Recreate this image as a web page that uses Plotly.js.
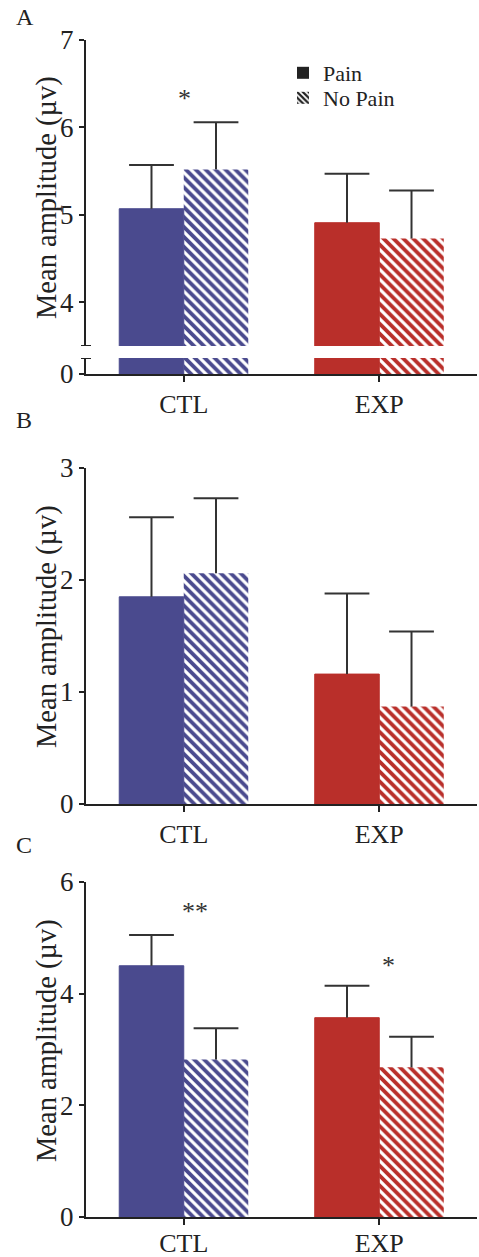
<!DOCTYPE html>
<html>
<head>
<meta charset="utf-8">
<script src="https://cdn.plot.ly/plotly-3.0.1.min.js"></script>
<style>html,body{margin:0;padding:0;background:#fff;}#chart{width:479px;height:1257px;}</style>
</head>
<body>
<div id="chart"></div>
<script>
// ---- data ----
const categories = ['CTL', 'EXP'];
const seriesNames = ['Pain', 'No Pain'];
// Panel A
const aPain = [5.07, 4.91];
const aPainErr = [0.50, 0.56];
const aNoPain = [5.52, 4.73];
const aNoPainErr = [0.54, 0.55];
// Panel B
const bPain = [1.85, 1.16];
const bPainErr = [0.71, 0.72];
const bNoPain = [2.06, 0.87];
const bNoPainErr = [0.67, 0.67];
// Panel C
const cPain = [4.50, 3.57];
const cPainErr = [0.55, 0.57];
const cNoPain = [2.82, 2.68];
const cNoPainErr = [0.56, 0.55];
// tick labels
const aTicks = [4, 5, 6, 7];
const aLowTicks = [0];
const bTicks = [0, 1, 2, 3];
const cTicks = [0, 2, 4, 6];
const panelLetters = ['A', 'B', 'C'];
const yTitle = 'Mean amplitude (µv)';
// significance markers
const sigText = ['*', '**', '*'];
const sigCat = [0, 0, 1];
const sigY = [6.37, 5.52, 4.55];

// ---- style ----
const W = 479, H = 1257;
const BLUE = '#4a4a8e', RED = '#b92f2a', INK = '#222222', ERR = '#333333';
const FONT = 'Liberation Serif, Times New Roman, serif';
const groupColors = [BLUE, RED];
const px = v => v / W;
const py = v => 1 - v / H;

function errY(arr, visible) {
  return {type: 'data', symmetric: false, array: arr, arrayminus: arr.map(() => 0),
          color: ERR, thickness: 2, width: 0, visible: visible};
}
function painTrace(y, err, xa, ya, showErr) {
  return {type: 'bar', x: categories, y: y, xaxis: xa, yaxis: ya, showlegend: false,
    marker: {color: groupColors, line: {width: 1, color: groupColors}},
    error_y: errY(err, showErr), hoverinfo: 'skip'};
}
function noPainTrace(y, err, xa, ya, showErr) {
  return {type: 'bar', x: categories, y: y, xaxis: xa, yaxis: ya, showlegend: false,
    marker: {color: groupColors, line: {width: 0},
      pattern: {shape: '\\', bgcolor: 'white', size: 7, solidity: 0.55, fillmode: 'replace'}},
    error_y: errY(err, showErr), hoverinfo: 'skip'};
}
// error-bar caps (top only), grouped like the bars
function capTrace(y, err, xa, ya) {
  return {type: 'scatter', mode: 'markers', x: categories, y: y.map((v, i) => v + err[i]),
    xaxis: xa, yaxis: ya, showlegend: false, hoverinfo: 'skip', cliponaxis: false,
    marker: {symbol: 'line-ew-open', size: 32, color: ERR, line: {width: 2, color: ERR}}};
}

const traces = [
  painTrace(aPain, aPainErr, 'x', 'y', true),
  noPainTrace(aNoPain, aNoPainErr, 'x', 'y', true),
  painTrace(aPain, aPainErr, 'x', 'y2', false),
  noPainTrace(aNoPain, aNoPainErr, 'x', 'y2', false),
  capTrace(aPain, aPainErr, 'x', 'y'),
  capTrace(aNoPain, aNoPainErr, 'x', 'y'),
  painTrace(bPain, bPainErr, 'x2', 'y3', true),
  noPainTrace(bNoPain, bNoPainErr, 'x2', 'y3', true),
  capTrace(bPain, bPainErr, 'x2', 'y3'),
  capTrace(bNoPain, bNoPainErr, 'x2', 'y3'),
  painTrace(cPain, cPainErr, 'x3', 'y4', true),
  noPainTrace(cNoPain, cNoPainErr, 'x3', 'y4', true),
  capTrace(cPain, cPainErr, 'x3', 'y4'),
  capTrace(cNoPain, cNoPainErr, 'x3', 'y4'),
  // legend entries (on hidden axes)
  {type: 'bar', x: [categories[0]], y: [null], xaxis: 'x4', yaxis: 'y5', name: seriesNames[0],
   marker: {color: INK}, showlegend: true, legend: 'legend'},
  {type: 'bar', x: [categories[0]], y: [null], xaxis: 'x4', yaxis: 'y5', name: seriesNames[1],
   marker: {color: INK, pattern: {shape: '\\', bgcolor: 'white', size: 5, solidity: 0.55}},
   showlegend: true, legend: 'legend2'}
];

const xDom = [px(86), px(477)];
function xAxis(anchor, standoff) {
  return {domain: xDom, anchor: anchor, type: 'category', range: [-0.5, 1.5],
    showline: true, linecolor: INK, linewidth: 2, ticks: 'outside', ticklen: 6, tickwidth: 2,
    tickcolor: INK, tickfont: {family: FONT, size: 26, color: INK}, showgrid: false,
    ticklabelstandoff: standoff, zeroline: false, fixedrange: true};
}
function yAxis(anchor, dom, range, ticks) {
  return {domain: dom, anchor: anchor, range: range, tickvals: ticks, ticktext: ticks.map(String),
    showline: true, linecolor: INK, linewidth: 2, ticks: 'outside', ticklen: 5, tickwidth: 2,
    tickcolor: INK, tickfont: {family: FONT, size: 27, color: INK}, showgrid: false,
    zeroline: false, fixedrange: true};
}

const annotations = [];
const letterY = [17, 420, 845];
panelLetters.forEach((t, i) => annotations.push({text: t, xref: 'paper', yref: 'paper',
  x: px(14), y: py(letterY[i]), xanchor: 'left', yanchor: 'middle', showarrow: false,
  font: {family: FONT, size: 24, color: INK}}));
const titleY = [198, 627, 1041];
titleY.forEach(v => annotations.push({text: yTitle, xref: 'paper', yref: 'paper',
  x: px(47), y: py(v), xanchor: 'center', yanchor: 'middle', textangle: -90, showarrow: false,
  font: {family: FONT, size: 28.5, color: INK}}));
const sigAxes = [['x', 'y'], ['x3', 'y4'], ['x3', 'y4']];
const sigShift = [1, 11, 9];
sigText.forEach((t, i) => annotations.push({text: t, xref: sigAxes[i][0], yref: sigAxes[i][1],
  x: sigCat[i], y: sigY[i], xshift: sigShift[i], yshift: -3, showarrow: false,
  xanchor: 'center', yanchor: 'middle', font: {family: FONT, size: 26, color: ERR}}));

const shapes = [
  {type: 'line', xref: 'paper', yref: 'y', x0: px(81), x1: px(91), y0: 3.5, y1: 3.5,
   line: {color: INK, width: 2}},
  {type: 'line', xref: 'paper', yref: 'y2', x0: px(81), x1: px(91), y0: 1, y1: 1,
   line: {color: INK, width: 2}}
];

const legendBase = {xanchor: 'left', yanchor: 'middle', bgcolor: 'rgba(0,0,0,0)',
  font: {family: FONT, size: 22, color: INK}, itemwidth: 30};

const layout = {
  width: W, height: H, margin: {l: 0, r: 0, t: 0, b: 0},
  paper_bgcolor: 'white', plot_bgcolor: 'white',
  barmode: 'group', bargap: 0.34, bargroupgap: 0,
  scattermode: 'group', scattergap: 0.34,
  font: {family: FONT, color: INK},
  xaxis: xAxis('y2', 0),
  yaxis: yAxis('x', [py(346), py(40)], [3.5, 7], aTicks),
  yaxis2: yAxis('x', [py(374), py(358)], [0, 1], aLowTicks),
  xaxis2: xAxis('y3', 0),
  yaxis3: yAxis('x2', [py(804), py(468)], [0, 3], bTicks),
  xaxis3: xAxis('y4', -4),
  yaxis4: yAxis('x3', [py(1217), py(882)], [0, 6], cTicks),
  xaxis4: {domain: [0, 0.01], anchor: 'y5', visible: false, fixedrange: true},
  yaxis5: {domain: [0, 0.01], anchor: 'x4', visible: false, fixedrange: true},
  legend: Object.assign({x: px(283), y: py(73)}, legendBase),
  legend2: Object.assign({x: px(283), y: py(98)}, legendBase),
  annotations: annotations,
  shapes: shapes
};

Plotly.newPlot('chart', traces, layout, {staticPlot: true, displayModeBar: false});
</script>
</body>
</html>
